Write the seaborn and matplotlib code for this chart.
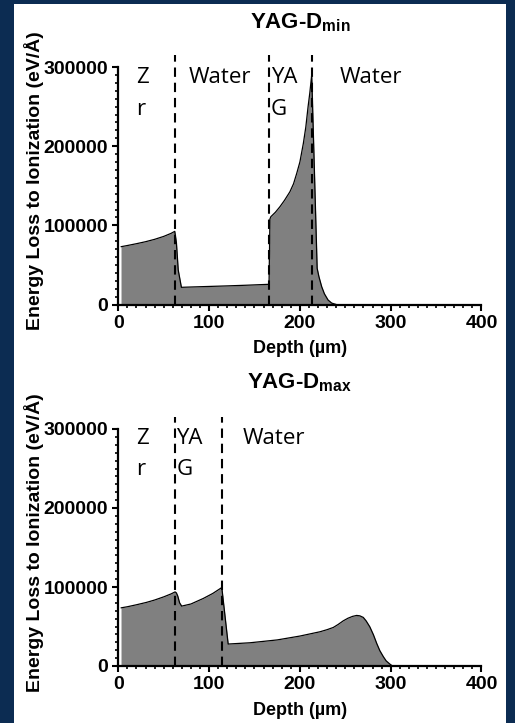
import numpy as np
import pandas as pd
import matplotlib
matplotlib.use("Agg")
import matplotlib.pyplot as plt
import seaborn as sns
from matplotlib.patches import Rectangle
from matplotlib.ticker import MultipleLocator, FuncFormatter

# ---------------- data ----------------
depth_min = [3, 10, 20, 30, 40, 50, 58, 62.2, 64, 66, 69.5, 80, 100, 120, 140, 166,
             167, 168, 173, 178, 183, 189, 193, 196.5, 200, 203.8, 206.5, 209, 211, 213,
             219, 221, 224, 227, 231, 235, 240]
eloss_min = [73000, 74500, 76800, 79300, 82300, 86000, 89800, 92400, 78000, 43600, 21700,
             22100, 22800, 23500, 24300, 25500,
             108000, 110900, 116500, 123500, 131500, 142400, 152500, 165600, 180000, 203500,
             224000, 249700, 268000, 290000,
             45700, 35000, 22500, 13500, 5700, 1800, 0]
bounds_min = [62.7, 166, 213]
labels_min = ["Z\nr", "Water", "YA\nG", "Water"]

depth_max = [3, 10, 20, 31, 40, 50, 58, 62.6, 64, 65.5, 67.5, 69.8, 80, 93.6, 104, 114,
             121, 145, 175, 200, 222, 230, 236.8, 242, 247.8, 253, 258, 262.5, 266, 269.8,
             273, 277, 281, 284.6, 288, 291.9, 295, 299, 302]
eloss_max = [73600, 75000, 77500, 80500, 83500, 87500, 91200, 93800, 92500, 88500, 80000,
             75800, 78500, 85500, 91800, 99300,
             27800, 29400, 33000, 37900, 43300, 46000, 48800, 52500, 57200, 60500, 62800,
             64000, 63500, 61500, 57000, 49600, 39500, 28600, 19500, 11800, 6500, 2500, 0]
bounds_max = [62.7, 114.7]
labels_max = ["Z\nr", "YA\nG", "Water"]

titles = ["min", "max"]
x_ticks = [0, 100, 200, 300, 400]
y_ticks = [0, 100000, 200000, 300000]

# ---------------- style ----------------
sns.set_style("ticks")
plt.rcParams["font.family"] = ["Liberation Sans", "DejaVu Sans"]
plt.rcParams["font.weight"] = "bold"
plt.rcParams["text.color"] = "black"
plt.rcParams["mathtext.fontset"] = "custom"
plt.rcParams["mathtext.bf"] = "Liberation Sans:bold"
plt.rcParams["mathtext.rm"] = "Liberation Sans:bold"
plt.rcParams["mathtext.it"] = "Liberation Sans:bold"

W, H = 515, 723
fig = plt.figure(figsize=(W / 100, H / 100), dpi=100)
fig.patch.set_facecolor("#0c2c52")
fig.add_artist(Rectangle((14 / W, 0), (506 - 14) / W, (H - 4) / H,
                         transform=fig.transFigure, facecolor="white",
                         edgecolor="none", zorder=-5))

def px_axes(x0, x1, ytop, ybot):
    return [x0 / W, 1 - ybot / H, (x1 - x0) / W, (ybot - ytop) / H]

ax1 = fig.add_axes(px_axes(118.3, 481.5, 67, 304.5))
ax2 = fig.add_axes(px_axes(118.3, 481.5, 429, 666))

label_font = ["Open Sans", "DejaVu Sans"]


def draw(ax, depth, eloss, bounds, labels, label_x, line1_y, line2_y, sub, title_y):
    df = pd.DataFrame({"Depth": depth, "Eloss": eloss})
    ax.fill_between(df["Depth"], 0, df["Eloss"], color="#808080", lw=0, zorder=1)
    sns.lineplot(data=df, x="Depth", y="Eloss", sort=False, color="black",
                 lw=0.9, ax=ax, zorder=2)
    ax.vlines(bounds, 0, 315000, colors="black", linestyles=(0, (4.5, 2.8)),
              lw=1.5, clip_on=False, zorder=3)
    for txt, xx in zip(labels, label_x):
        parts = txt.split("\n")
        ax.text(xx, line1_y, parts[0], ha="left", va="baseline", fontsize=16,
                family=label_font, fontweight="normal", color="black", zorder=4)
        if len(parts) > 1:
            ax.text(xx, line2_y, parts[1], ha="left", va="baseline", fontsize=16,
                    family=label_font, fontweight="normal", color="black", zorder=4)
    ax.set_xlim(0, 400)
    ax.set_ylim(0, 300000)
    ax.set_xticks(x_ticks)
    ax.set_yticks(y_ticks)
    ax.xaxis.set_minor_locator(MultipleLocator(10))
    ax.yaxis.set_minor_locator(MultipleLocator(10000))
    ax.yaxis.set_major_formatter(FuncFormatter(lambda v, p: f"{int(round(v))}"))
    ax.xaxis.set_major_formatter(FuncFormatter(lambda v, p: f"{int(round(v))}"))
    ax.tick_params(which="major", length=4.5, width=1.5, labelsize=14, pad=3,
                   color="black", labelcolor="black")
    ax.tick_params(which="minor", length=2.5, width=1.2, color="black")
    for lbl in ax.get_xticklabels() + ax.get_yticklabels():
        lbl.set_fontweight("bold")
    sns.despine(ax=ax)
    for s in ["left", "bottom"]:
        ax.spines[s].set_linewidth(1.6)
        ax.spines[s].set_color("black")
    ax.set_facecolor("white")
    ax.set_xlabel("Depth (µm)", fontsize=13, fontweight="bold", color="black")
    ax.xaxis.label.set_va("baseline")
    ax.xaxis.set_label_coords(0.5, -0.206)
    ax.set_ylabel("Energy Loss to Ionization (eV/Å)", fontsize=14,
                  fontweight="bold", color="black")
    ax.yaxis.set_label_coords(-0.205, 0.52)
    ax.text(0.5, title_y, r"YAG-D$_{\mathbf{" + sub + "}}$", transform=ax.transAxes,
            ha="center", va="baseline", fontsize=16, fontweight="bold", color="black")


draw(ax1, depth_min, eloss_min, bounds_min, labels_min, [20, 78, 168, 244],
     279300, 239300, titles[0], 1.163)
draw(ax2, depth_max, eloss_max, bounds_max, labels_max, [20, 64, 137],
     281200, 241200, titles[1], 1.172)

fig.savefig("out.png", dpi=100, facecolor=fig.get_facecolor())
